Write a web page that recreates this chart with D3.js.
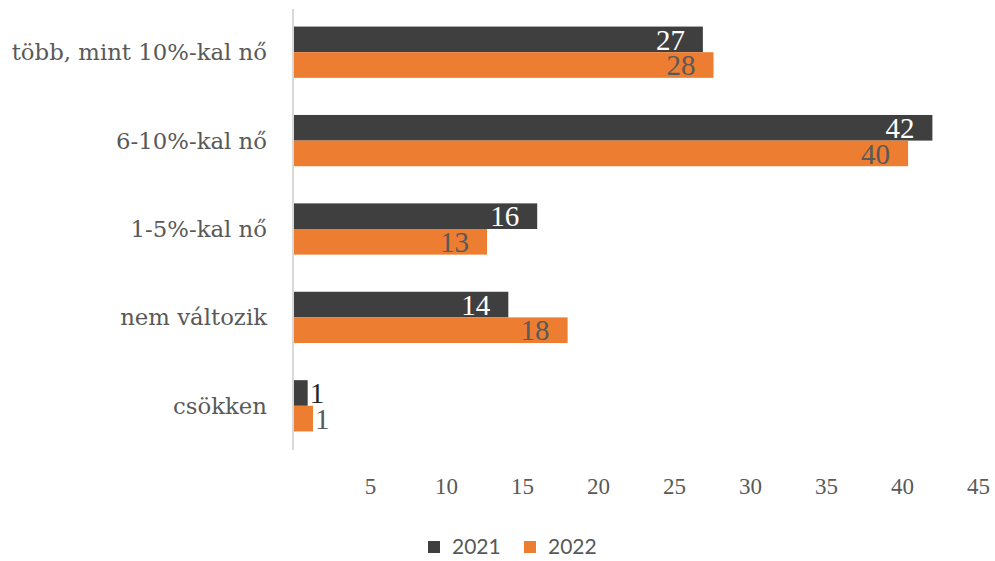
<!DOCTYPE html>
<html><head><meta charset="utf-8">
<script src="https://cdn.jsdelivr.net/npm/d3@7"></script>
<style>body{margin:0;background:#fff}svg{display:block}</style>
</head><body>
<svg id="c" width="995" height="561"></svg>
<script>
const categories = ["több, mint 10%-kal nő", "6-10%-kal nő", "1-5%-kal nő", "nem változik", "csökken"];
const series = ["2021", "2022"];
const values2021 = [26.9, 42.0, 16.0, 14.1, 0.9];
const values2022 = [27.6, 40.4, 12.7, 18.0, 1.25];
const tickValues = [5, 10, 15, 20, 25, 30, 35, 40, 45];

const colors = {"2021": "#3f3f3f", "2022": "#ed7d31"};
const labelIn = {"2021": "#ffffff", "2022": "#595959"};
const labelOut = {"2021": "#262626", "2022": "#595959"};
const serif = "'Liberation Serif', 'DejaVu Serif', serif";

const svg = d3.select("#c");
const x = d3.scaleLinear().domain([0, 45]).range([294, 978]);
const y = d3.scaleBand().domain(categories).range([8, 450]).paddingInner(0.42).paddingOuter(0.21);
const ys = d3.scaleBand().domain(series).range([0, y.bandwidth()]);

const data = categories.map((c, i) => ({cat: c, vals: [
  {s: "2021", v: values2021[i]}, {s: "2022", v: values2022[i]}]}));

const g = svg.append("g");
const groups = g.selectAll("g.cat").data(data).join("g")
  .attr("transform", d => `translate(0,${y(d.cat)})`);

groups.selectAll("rect").data(d => d.vals).join("rect")
  .attr("x", x(0))
  .attr("y", d => ys(d.s))
  .attr("width", d => x(d.v) - x(0))
  .attr("height", ys.bandwidth())
  .attr("fill", d => colors[d.s]);

groups.selectAll("text.val").data(d => d.vals).join("text")
  .attr("class", "val")
  .each(function(d) {
    const w = x(d.v) - x(0);
    const inside = w > 40;
    d3.select(this)
      .attr("x", inside ? x(d.v) - 18 : x(d.v) + 2)
      .attr("y", ys(d.s) + ys.bandwidth() / 2)
      .attr("text-anchor", inside ? "end" : "start")
      .attr("fill", inside ? labelIn[d.s] : labelOut[d.s]);
  })
  .attr("dy", "0.35em")
  .attr("font-family", serif)
  .attr("font-size", 29)
  .text(d => Math.round(d.v));

// category labels
svg.append("g").selectAll("text").data(categories).join("text")
  .attr("x", 267)
  .attr("y", d => y(d) + y.bandwidth() / 2)
  .attr("dy", "0.35em")
  .attr("text-anchor", "end")
  .attr("font-family", "'DejaVu Serif', serif")
  .attr("font-size", 22.8)
  .attr("fill", "#595959")
  .text(d => d);

// vertical axis line
svg.append("line")
  .attr("x1", 293).attr("x2", 293).attr("y1", 9).attr("y2", 450)
  .attr("stroke", "#d9d9d9").attr("stroke-width", 2);

// x axis tick labels
const xAxis = d3.axisBottom(x).tickValues(tickValues).tickSize(0).tickPadding(0);
const ax = svg.append("g").attr("transform", "translate(0,478)").call(xAxis);
ax.select(".domain").remove();
ax.selectAll("text")
  .attr("font-family", serif)
  .attr("font-size", 23)
  .attr("fill", "#595959");

// legend
const legend = svg.append("g");
const legItems = [{s: "2021", x: 428}, {s: "2022", x: 524}];
legItems.forEach(it => {
  legend.append("rect").attr("x", it.x).attr("y", 541).attr("width", 12).attr("height", 12)
    .attr("fill", colors[it.s]);
  legend.append("text").attr("x", it.x + 24).attr("y", 547).attr("dy", "0.35em")
    .attr("font-family", "Lato, 'Open Sans', sans-serif").attr("font-size", 21)
    .attr("fill", "#595959").text(it.s);
});
</script>
</body></html>
